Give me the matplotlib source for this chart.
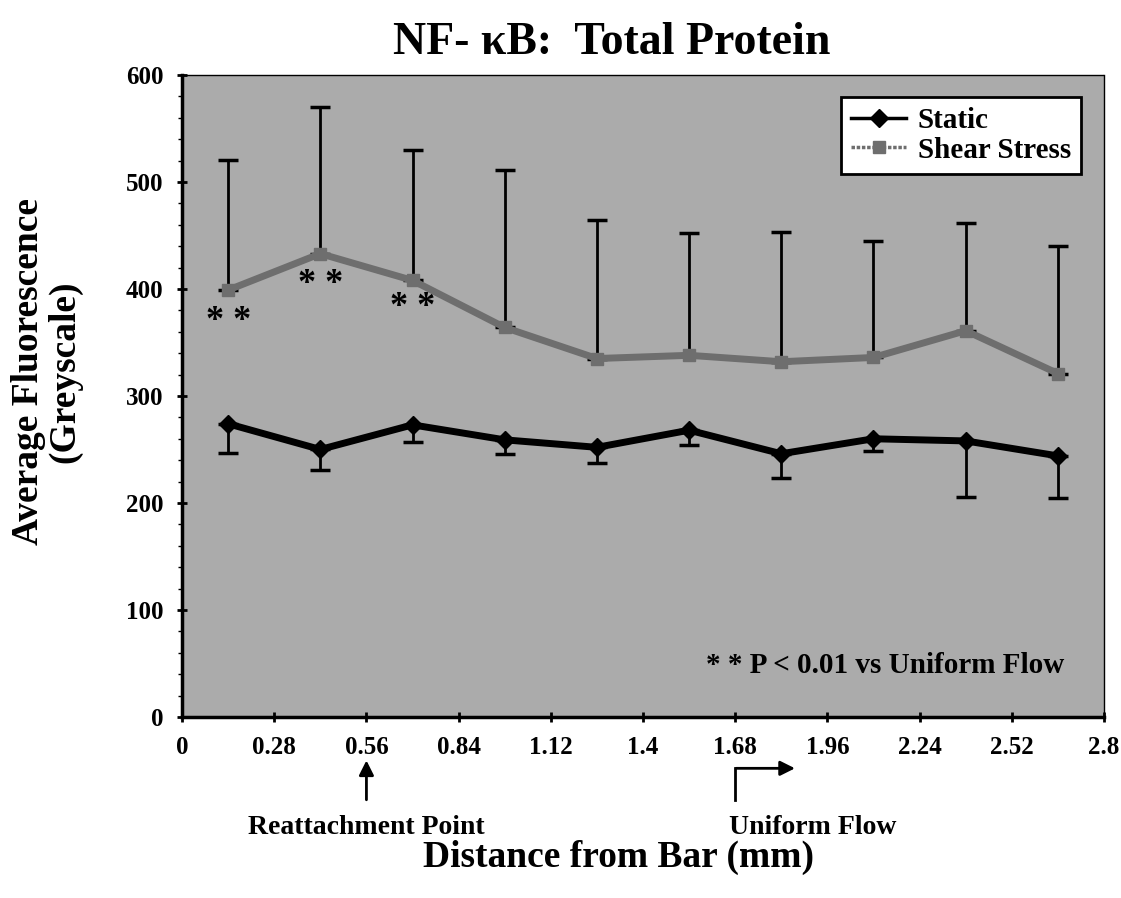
import matplotlib.pyplot as plt
from matplotlib.lines import Line2D
from matplotlib.ticker import MultipleLocator

# distance from bar (mm)
distance = [0.14, 0.42, 0.70, 0.98, 1.26, 1.54, 1.82, 2.10, 2.38, 2.66]

# average fluorescence
static = [274, 250, 273, 259, 252, 268, 246, 260, 258, 244]
static_err = [27, 19, 16, 13, 15, 14, 23, 11, 52, 39]
shear = [399, 433, 408, 364, 335, 338, 332, 336, 361, 321]
shear_err = [122, 137, 122, 147, 129, 114, 121, 109, 101, 119]

x_ticks = [0, 0.28, 0.56, 0.84, 1.12, 1.4, 1.68, 1.96, 2.24, 2.52, 2.8]
x_tick_labels = ['0', '0.28', '0.56', '0.84', '1.12', '1.4', '1.68', '1.96', '2.24', '2.52', '2.8']
y_ticks = [0, 100, 200, 300, 400, 500, 600]

plt.rcParams['font.family'] = ['Liberation Serif', 'DejaVu Serif']
plt.rcParams['font.weight'] = 'bold'

fig = plt.figure(figsize=(11.21, 8.98), dpi=100)
ax = fig.add_axes([0.1624, 0.2016, 0.8224, 0.7149])
ax.set_facecolor('#ababab')

# shear stress: gray line, upper error bars only
ax.errorbar(distance, shear, yerr=[[0] * len(shear), shear_err], color='#6e6e6e',
            lw=5, marker='s', ms=9, ecolor='black', elinewidth=2, capsize=7, capthick=2.5,
            zorder=3)
# static: black line, lower error bars only
ax.errorbar(distance, static, yerr=[static_err, [0] * len(static)], color='black',
            lw=5, marker='D', ms=9, ecolor='black', elinewidth=2, capsize=7, capthick=2.5,
            zorder=4)

ax.set_xlim(0, 2.8)
ax.set_ylim(0, 600)
ax.set_xticks(x_ticks)
ax.set_xticklabels(x_tick_labels)
ax.set_yticks(y_ticks)
ax.yaxis.set_minor_locator(MultipleLocator(20))
ax.tick_params(axis='both', labelsize=18, width=2, length=7, direction='inout')
ax.tick_params(axis='x', pad=10)
ax.tick_params(axis='y', pad=10)
ax.tick_params(axis='y', which='minor', length=3, width=1)
for lbl in ax.get_xticklabels() + ax.get_yticklabels():
    lbl.set_fontweight('bold')

ax.spines['left'].set_linewidth(2.5)
ax.spines['bottom'].set_linewidth(2.5)
ax.spines['top'].set_linewidth(1)
ax.spines['right'].set_linewidth(1)
ax.spines['top'].set_linestyle((0, (1, 1)))
ax.spines['right'].set_linestyle((0, (1, 1)))

# legend with plain line handles
handles = [Line2D([], [], color='black', lw=2.5, marker='D', ms=9),
           Line2D([], [], color='#6e6e6e', lw=2.5, ls=(0, (1, 0.5)), marker='s', ms=9)]
leg = ax.legend(handles, ['Static', 'Shear Stress'], loc='upper right', fontsize=21,
                frameon=True, fancybox=False, edgecolor='black', framealpha=1,
                borderpad=0.35, handlelength=1.9, handletextpad=0.4,
                labelspacing=0.1, borderaxespad=0.3, bbox_to_anchor=(0.985, 0.98))
leg.get_frame().set_linewidth(2)
for t in leg.get_texts():
    t.set_fontweight('bold')

# significance markers
ax.text(distance[0], 370, '* *', ha='center', va='center', fontsize=26)
ax.text(distance[1], 404, '* *', ha='center', va='center', fontsize=26)
ax.text(distance[2], 383, '* *', ha='center', va='center', fontsize=26)
ax.text(2.68, 48, '* * P < 0.01 vs Uniform Flow', ha='right', va='center',
        fontsize=21, fontweight='bold')

# reattachment arrow
ax.annotate('', xy=(0.56, -38), xytext=(0.56, -80), annotation_clip=False,
            arrowprops=dict(arrowstyle='-|>', color='black', lw=2, mutation_scale=22))
ax.text(0.56, -103, 'Reattachment Point', ha='center', va='center',
        fontsize=20, fontweight='bold', clip_on=False)

# uniform flow bent arrow
ax.plot([1.68, 1.68], [-78, -48], color='black', lw=2, clip_on=False)
ax.annotate('', xy=(1.87, -48), xytext=(1.675, -48), annotation_clip=False,
            arrowprops=dict(arrowstyle='-|>', color='black', lw=2, mutation_scale=22))
ax.text(1.66, -103, 'Uniform Flow', ha='left', va='center',
        fontsize=20, fontweight='bold', clip_on=False)

fig.text(0.546, 0.952, 'NF- κB:  Total Protein', ha='center', va='center',
         fontsize=33, fontweight='bold')
fig.text(0.552, 0.045, 'Distance from Bar (mm)', ha='center', va='center',
         fontsize=27, fontweight='bold')
fig.text(0.042, 0.586, 'Average Fluorescence\n(Greyscale)', ha='center', va='center',
         rotation=90, fontsize=27, fontweight='bold', linespacing=1.05)

fig.savefig('out.png', dpi=100)
